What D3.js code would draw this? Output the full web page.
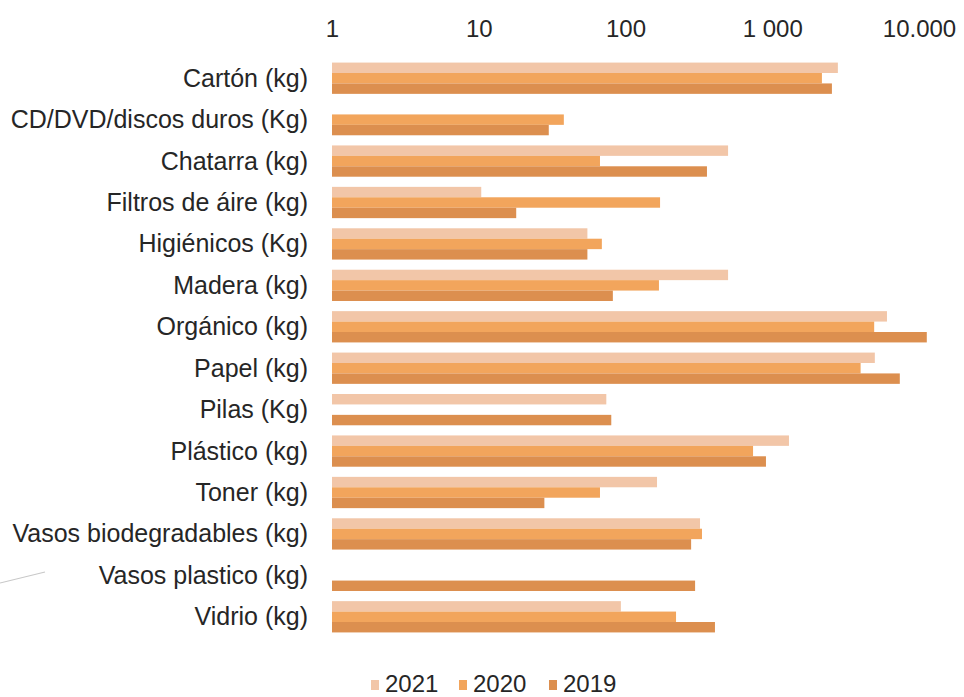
<!DOCTYPE html>
<html><head><meta charset="utf-8">
<script src="https://cdn.jsdelivr.net/npm/d3@7"></script>
<style>body{margin:0;background:#fff}svg{display:block}</style>
</head><body>
<svg id="c" width="964" height="697"></svg>
<script>
const categories = ["Cartón (kg)","CD/DVD/discos duros (Kg)","Chatarra (kg)","Filtros de áire (kg)","Higiénicos (Kg)","Madera (kg)","Orgánico (kg)","Papel (kg)","Pilas (Kg)","Plástico (kg)","Toner (kg)","Vasos biodegradables (kg)","Vasos plastico (kg)","Vidrio (kg)"];
const series = ["2021","2020","2019"];
const v2021 = [2800, null, 500, 10.4, 55, 500, 6050, 5000, 74, 1300, 164, 322, null, 93];
const v2020 = [2180, 38, 67, 172, 69, 169, 4950, 4000, null, 740, 67, 332, null, 221];
const v2019 = [2550, 30, 359, 18, 55, 82, 11300, 7400, 80, 906, 28, 280, 298, 407];
const tickValues = [1, 10, 100, 1000, 10000];
const tickLabels = ["1", "10", "100", "1 000", "10.000"];
const colors = ["#f2c6a8", "#f2a55c", "#dc8f4f"];

const values = [v2021, v2020, v2019];
const svg = d3.select("#c");
const font = "'Liberation Sans', Arial, sans-serif";

const x = d3.scaleLog().domain([1, 10000]).range([332, 919]);
const y = d3.scaleBand().domain(categories).range([57.5, 637.5]).paddingInner(0.245).paddingOuter(0.1225);
const ys = d3.scaleBand().domain(series).range([0, y.bandwidth()]);

// faint artifact line bottom-left
svg.append("line").attr("x1", 0).attr("y1", 583).attr("x2", 45).attr("y2", 572)
  .attr("stroke", "#c8c8c8").attr("stroke-width", 1.2);

// bars
series.forEach((s, si) => {
  const data = categories.map((c, i) => ({c, v: values[si][i]})).filter(d => d.v != null);
  svg.append("g").selectAll("rect").data(data).join("rect")
    .attr("x", x(1))
    .attr("y", d => y(d.c) + ys(s))
    .attr("width", d => x(d.v) - x(1))
    .attr("height", ys.bandwidth())
    .attr("fill", colors[si]);
});

// top axis (labels only)
const xAxis = d3.axisTop(x).tickValues(tickValues).tickFormat((d, i) => tickLabels[i]).tickSize(0).tickPadding(0);
const gx = svg.append("g").attr("transform", "translate(0,37)").call(xAxis);
gx.select(".domain").remove();
gx.selectAll("text").attr("font-family", font).attr("font-size", 24).attr("fill", "#262626").attr("dy", 0);

// left axis labels
const yAxis = d3.axisLeft(y).tickSize(0).tickPadding(0);
const gy = svg.append("g").attr("transform", "translate(308,0)").call(yAxis);
gy.select(".domain").remove();
gy.selectAll("text").attr("font-family", font).attr("font-size", 25).attr("fill", "#262626").attr("dy", "0.34em");

// legend
const legendX = [371, 459, 549];
const lg = svg.append("g");
series.forEach((s, i) => {
  lg.append("rect").attr("x", legendX[i]).attr("y", 680).attr("width", 8).attr("height", 10).attr("fill", colors[i]);
  lg.append("text").attr("x", legendX[i] + 14).attr("y", 692).attr("font-family", font).attr("font-size", 24)
    .attr("fill", "#262626").text(s);
});
</script>
</body></html>
